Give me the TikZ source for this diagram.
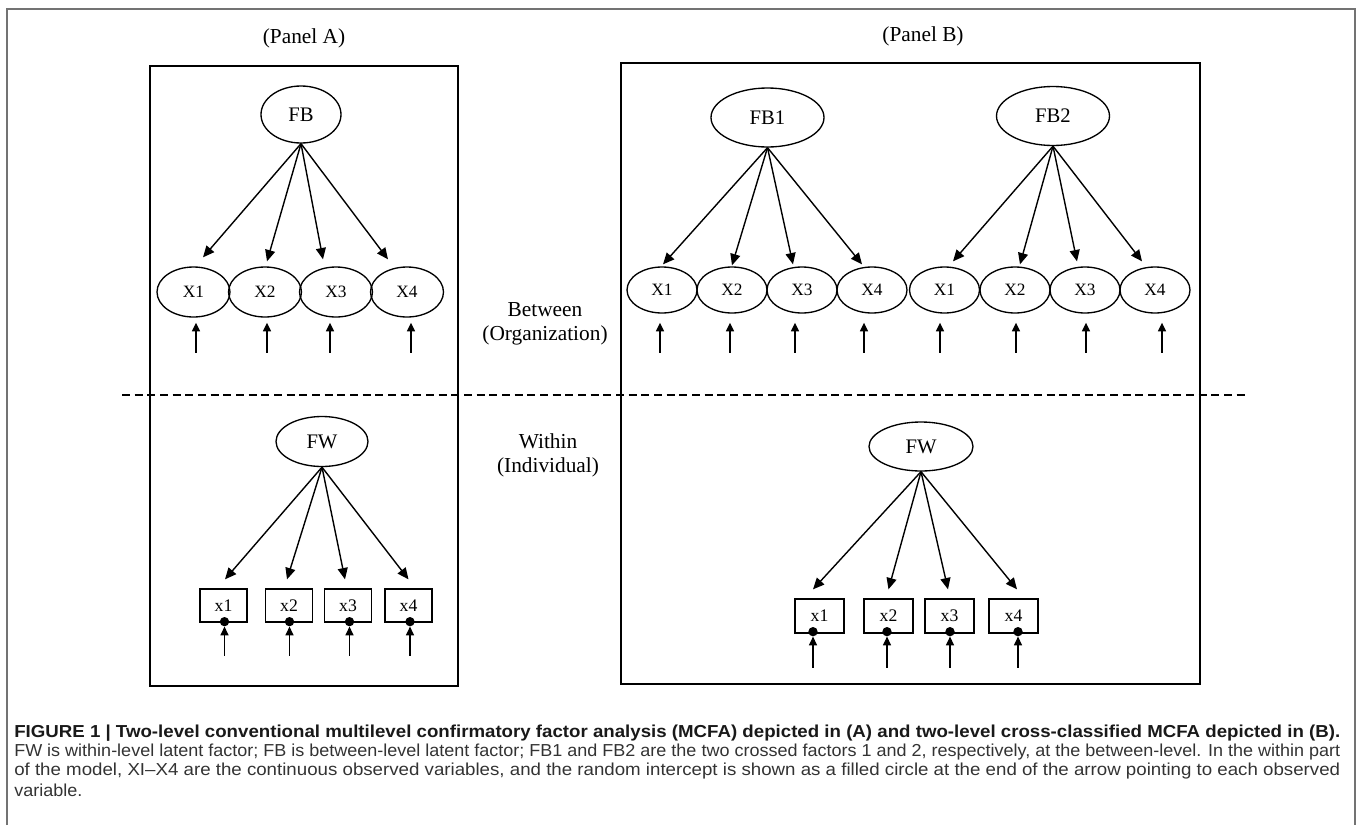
\documentclass[tikz,border=0pt]{standalone}
\usepackage{fontspec}
\usepackage{graphicx}
\setmainfont{Liberation Serif}
\newfontfamily\capfont{Liberation Sans}
\usetikzlibrary{arrows.meta,calc,shapes.geometric}
\newsavebox\capbox
\newcommand\fitcap[1]{\sbox\capbox{#1}\pgfmathsetmacro\capsx{994.5pt/\the\wd\capbox}\global\let\capsxlast\capsx\scalebox{\capsx}[1]{\usebox\capbox}}
\begin{document}
\begin{tikzpicture}[x=0.75pt,y=-0.75pt,
  lat/.style={draw,ellipse,line width=1pt,inner sep=0pt},
  fbig/.style={lat,font=\fontsize{15.5}{17}\selectfont},
  fsmall/.style={lat,font=\fontsize{13}{15}\selectfont},
  obsbox/.style={draw,rectangle,line width=1pt,inner sep=0pt,font=\fontsize{13.25}{15}\selectfont},
  load/.style={-{Triangle[length=8.5pt,width=7.5pt]},line width=1.05pt},
  errarr/.style={-{Triangle[length=6.5pt,width=6pt]},line width=1.1pt},
  dotnode/.style={circle,fill=black,inner sep=0pt,minimum size=7pt},
  boxline/.style={line width=1.15pt},
  lbl/.style={font=\fontsize{16}{18}\selectfont,align=center},
  capline/.style={anchor=west,inner sep=0pt,font=\capfont\fontsize{13}{15}\selectfont}
]
\useasboundingbox (0,0) rectangle (1357,825);
% outer frame
\draw[black!55,line width=1pt] (7,825) -- (7,9) -- (1355,9) -- (1355,825);

% panel titles
\node[lbl] (pA) at (304,38) {(Panel A)};
\node[lbl] (pB) at (923,36) {(Panel B)};

% panel boxes
\draw[boxline] (150,66) rectangle (458,686);
\draw[boxline] (621,63) rectangle (1200,684);

% level labels
\node[lbl] (btw) at (545,324) {Between\\(Organization)};
\node[lbl] (wth) at (548,455) {Within\\(Individual)};

% dashed separator
\coordinate (dl) at (122,395);
\coordinate (dr) at (1245,395);
\draw[line width=0.95pt,dash pattern=on 6pt off 3.5pt] (dl) -- (dr);

% ---------------- Panel A, between ----------------
\node[fbig,minimum width=60pt,minimum height=42.75pt] (FB) at (301,114.5) {FB};
\foreach \n/\x in {1/193.5,2/265,3/336,4/407}{
  \node[fsmall,minimum width=54.75pt,minimum height=37.5pt] (AX\n) at (\x,292) {X\n};
}
\draw[load] (FB.south) -- ($(AX1.north)+(9.5,-9)$);
\draw[load] (FB.south) -- ($(AX2.north)+(2,-5)$);
\draw[load] (FB.south) -- ($(AX3.north)+(-13,-7)$);
\draw[load] (FB.south) -- ($(AX4.north)+(-19,-7)$);
\foreach \n/\d in {1/2.5,2/2,3/-6,4/4}{
  \coordinate (aet\n) at ($(AX\n.south)+(\d,5)$);
  \coordinate (aeb\n) at ($(aet\n)+(0,30)$);
  \draw[errarr] (aeb\n) -- (aet\n);
}

% ---------------- Panel A, within ----------------
\node[fbig,minimum width=69pt,minimum height=37.5pt] (FWA) at (322,441.5) {FW};
\foreach \n/\x in {1/223.5,2/289,3/348,4/408.5}{
  \node[obsbox,minimum width=35.25pt,minimum height=24.75pt] (ax\n) at (\x,605.5) {x\n};
}
\draw[load] (FWA.south) -- ($(ax1.north)+(1.5,-9)$);
\draw[load] (FWA.south) -- ($(ax2.north)+(-2,-9)$);
\draw[load] (FWA.south) -- ($(ax3.north)+(-3,-9)$);
\draw[load] (FWA.south) -- ($(ax4.north)+(0,-9)$);
\foreach \n/\d in {1/1,2/0.5,3/1.5,4/1.5}{
  \node[dotnode] (ad\n) at ($(ax\n.south)+(\d,-1)$) {};
  \coordinate (adb\n) at ($(ad\n)+(0,34)$);
  \draw[errarr] (adb\n) -- (ad\n.south);
}

% ---------------- Panel B, between ----------------
\node[fbig,minimum width=84.75pt,minimum height=44.25pt] (FB1) at (767.5,117.5) {FB1};
\node[fbig,minimum width=84.75pt,minimum height=44.25pt] (FB2) at (1053,116) {FB2};
\foreach \n/\x in {1/662,2/732,3/802,4/872}{
  \node[fsmall,minimum width=52.5pt,minimum height=34.5pt] (BX\n) at (\x,290) {X\n};
}
\foreach \n/\x in {1/944.5,2/1015,3/1085,4/1155}{
  \node[fsmall,minimum width=52.5pt,minimum height=34.5pt] (CX\n) at (\x,290) {X\n};
}
\draw[load] (FB1.south) -- ($(BX1.north)+(1,-2)$);
\draw[load] (FB1.south) -- ($(BX2.north)+(0,-1)$);
\draw[load] (FB1.south) -- ($(BX3.north)+(-9,-2)$);
\draw[load] (FB1.south) -- ($(BX4.north)+(-10,-2)$);
\draw[load] (FB2.south) -- ($(CX1.north)+(8.5,-5)$);
\draw[load] (FB2.south) -- ($(CX2.north)+(5,-2)$);
\draw[load] (FB2.south) -- ($(CX3.north)+(-8,-5)$);
\draw[load] (FB2.south) -- ($(CX4.north)+(-13,-5)$);
\foreach \n/\d in {1/-2,2/-2,3/-7,4/-8}{
  \coordinate (bet\n) at ($(BX\n.south)+(\d,9)$);
  \coordinate (beb\n) at ($(bet\n)+(0,30)$);
  \draw[errarr] (beb\n) -- (bet\n);
}
\foreach \n/\d in {1/-4.5,2/1,3/1,4/7}{
  \coordinate (cet\n) at ($(CX\n.south)+(\d,9)$);
  \coordinate (ceb\n) at ($(cet\n)+(0,30)$);
  \draw[errarr] (ceb\n) -- (cet\n);
}

% ---------------- Panel B, within ----------------
\node[fbig,minimum width=78pt,minimum height=36.75pt] (FWB) at (921,446.5) {FW};
\foreach \n/\x in {1/819.5,2/888.5,3/949.5,4/1013.5}{
  \node[obsbox,minimum width=36.75pt,minimum height=25.5pt] (bx\n) at (\x,616) {x\n};
}
\draw[load] (FWB.south) -- ($(bx1.north)+(-6.5,-9)$);
\draw[load] (FWB.south) -- ($(bx2.north)+(0,-9)$);
\draw[load] (FWB.south) -- ($(bx3.north)+(-1.5,-9)$);
\draw[load] (FWB.south) -- ($(bx4.north)+(3.5,-9)$);
\foreach \n/\d in {1/-6.5,2/-1.5,3/0.5,4/4.5}{
  \node[dotnode] (bd\n) at ($(bx\n.south)+(\d,-2)$) {};
  \coordinate (bdb\n) at ($(bd\n)+(0,36)$);
  \draw[errarr] (bdb\n) -- (bd\n.south);
}

% ---------------- caption ----------------
\node[capline,text=black!90] (cap1) at (14,733) {\fitcap{\bfseries FIGURE 1 | Two-level conventional multilevel confirmatory factor analysis (MCFA) depicted in (A) and two-level cross-classified MCFA depicted in (B).}};
\node[capline,text=black!80] (cap3) at (14,771) {\fitcap{of the model, XI–X4 are the continuous observed variables, and the random intercept is shown as a filled circle at the end of the arrow pointing to each observed}};
\node[capline,text=black!80] (cap2) at (14,752) {\fitcap{FW is within-level latent factor; FB is between-level latent factor; FB1 and FB2 are the two crossed factors 1 and 2, respectively, at the between-level. In the within part}};
\node[capline,text=black!80] (cap4) at (14,790) {\scalebox{\capsxlast}[1]{variable.}};
\end{tikzpicture}
\end{document}
